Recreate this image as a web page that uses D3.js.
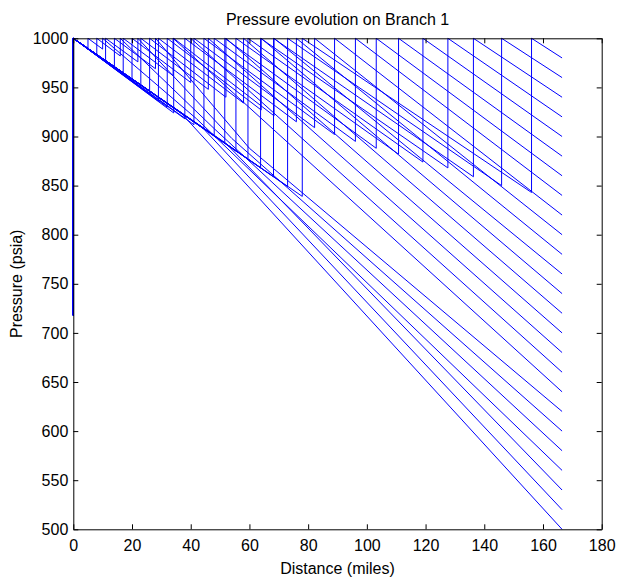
<!DOCTYPE html>
<html lang="en">
  <head>
    <meta charset="UTF-8" />
    <title>Pressure evolution on Branch 1</title>
    <script src="https://d3js.org/d3.v7.min.js"></script>
    <style>
      body {
        margin: 0;
        background: white;
      }
      text {
        font-family: "Liberation Sans", Arial, sans-serif;
        fill: #000;
      }
      .profile {
        fill: none;
        stroke: #0000ff;
        stroke-width: 1;
      }
    </style>
  </head>
  <body>
    <script>
      // pipeline length and maximum (discharge) pressure
      const lengthMi = 166.5;
      const maxPsi = 1000;
      const inletPsi = 718;

      // one entry per profile: outlet pressure, compressor stations, suction pressure at each
      const outletPsi = [980, 960, 940, 920, 900, 880, 860, 840, 820, 800, 780, 760, 740,
                         720, 700, 680, 660, 640, 620, 600, 580, 560, 540, 520, 500];
      const stationMi = [
        [78, 156.1], [73, 145.9], [68.2, 136.3], [63.8, 127.6], [59.5, 119.1],
        [55.4, 110.8], [51.6, 103.2], [48, 96.1], [44.5, 89], [41.1, 82.2],
        [38, 76], [34.2, 68.4], [32, 64], [29, 58], [26, 52], [23, 46], [20, 40],
        [17, 34], [14, 28], [11, 22], [8, 16], [5, 10], [], [], []
      ];
      const suctionPsi = [
        [839, 843], [849, 850], [859, 859], [868, 868], [877, 874],
        [885, 882], [893, 888], [901, 895], [908, 902], [912, 909],
        [918, 915], [924, 921], [930, 927], [936, 934], [943, 940], [950, 948], [957, 955],
        [963, 962], [970, 969], [976, 976], [983, 982], [989, 989], [], [], []
      ];
      // bend points on the last leg (before the outlet)
      const kneeMi = [null, null, null, null, null, null, null, null, null, null, null, null, null,
                      null, null, null, null, null, 60, 54, 48, 42, 52, 44, 37];
      const kneePsi = [null, null, null, null, null, null, null, null, null, null, null, null, null,
                       null, null, null, null, null, 888, 898, 908, 918, 893, 909, 923];

      const width = 618, height = 582;
      const margin = { left: 73.3, right: 16.3, top: 38.3, bottom: 52.7 };

      const svg = d3.select("body").append("svg")
        .attr("width", width)
        .attr("height", height);

      const x = d3.scaleLinear().domain([0, 180]).range([margin.left, width - margin.right]);
      const y = d3.scaleLinear().domain([500, 1000]).range([height - margin.bottom, margin.top]);

      // build each profile polyline
      const profiles = outletPsi.map((out, i) => {
        const pts = [[0, inletPsi], [0, maxPsi]];
        stationMi[i].forEach((s, j) => {
          pts.push([s, suctionPsi[i][j]]);
          pts.push([s, maxPsi]);
        });
        if (kneeMi[i] !== null) pts.push([kneeMi[i], kneePsi[i]]);
        pts.push([lengthMi, out]);
        return pts;
      });

      const line = d3.line().x(d => x(d[0])).y(d => y(d[1]));

      const plot = svg.append("g");
      plot.selectAll("path")
        .data(profiles)
        .enter()
        .append("path")
        .attr("class", "profile")
        .attr("d", line);

      // axes, MATLAB style: ticks inside, mirrored on top and right
      const xTicks = d3.range(0, 181, 20);
      const yTicks = d3.range(500, 1001, 50);
      const fmt = d3.format("d");

      svg.append("g")
        .attr("transform", `translate(0,${y(500)})`)
        .call(d3.axisBottom(x).tickValues(xTicks).tickFormat(fmt).tickSizeInner(-5).tickSizeOuter(0).tickPadding(10))
        .call(g => g.selectAll("text").attr("font-size", 16).attr("font-family", "Liberation Sans"));
      svg.append("g")
        .attr("transform", `translate(0,${y(1000)})`)
        .call(d3.axisTop(x).tickValues(xTicks).tickSizeInner(-5).tickSizeOuter(0).tickFormat(""));
      svg.append("g")
        .attr("transform", `translate(${x(0)},0)`)
        .call(d3.axisLeft(y).tickValues(yTicks).tickFormat(fmt).tickSizeInner(-5).tickSizeOuter(0).tickPadding(5))
        .call(g => g.selectAll("text").attr("font-size", 16).attr("font-family", "Liberation Sans"));
      svg.append("g")
        .attr("transform", `translate(${x(180)},0)`)
        .call(d3.axisRight(y).tickValues(yTicks).tickSizeInner(-5).tickSizeOuter(0).tickFormat(""));

      svg.selectAll(".domain").attr("stroke", "#000");
      svg.selectAll(".tick line").attr("stroke", "#000");

      svg.append("text")
        .attr("x", (x(0) + x(180)) / 2)
        .attr("y", 25)
        .attr("text-anchor", "middle")
        .attr("font-size", 16)
        .text("Pressure evolution on Branch 1");

      svg.append("text")
        .attr("x", (x(0) + x(180)) / 2)
        .attr("y", 574)
        .attr("text-anchor", "middle")
        .attr("font-size", 16)
        .text("Distance (miles)");

      svg.append("text")
        .attr("transform", `translate(22,${(y(500) + y(1000)) / 2}) rotate(-90)`)
        .attr("text-anchor", "middle")
        .attr("font-size", 16)
        .text("Pressure (psia)");
    </script>
  </body>
</html>
